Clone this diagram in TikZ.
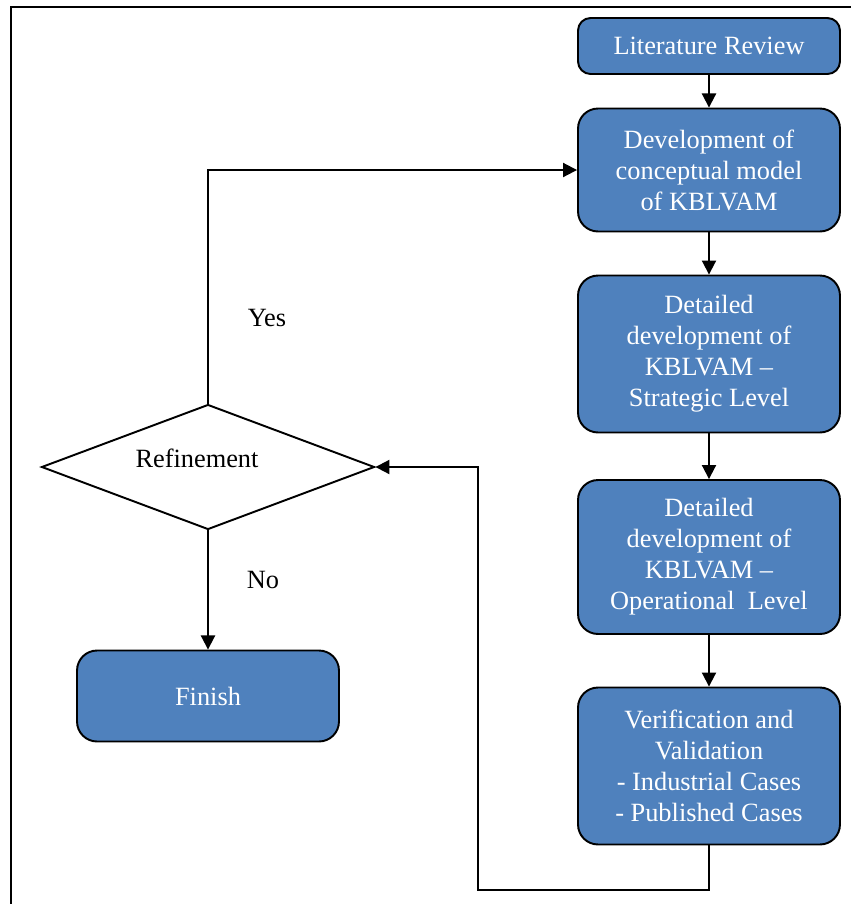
\documentclass[tikz,border=0pt]{standalone}
\usepackage{fontspec}
\setmainfont{Liberation Serif}
\usepackage{tikz}
\usetikzlibrary{shapes.geometric,arrows.meta}

\definecolor{boxblue}{RGB}{79,129,189}

\begin{document}
\begin{tikzpicture}[x=0.02cm, y=-0.02cm,
    stage/.style={draw=black, line width=1.1pt, fill=boxblue, text=white,
      rounded corners=0.4cm, align=center, minimum width=5.24cm,
      inner sep=2pt, font=\fontsize{15}{17.6}\selectfont},
    decide/.style={draw=black, line width=1.1pt, diamond, inner sep=0pt,
      minimum width=6.66cm, minimum height=2.5cm},
    word/.style={font=\fontsize{15}{17.6}\selectfont},
    arr/.style={line width=1.1pt, -{Triangle[length=8pt,width=8pt]}}]
        \useasboundingbox (0,0) rectangle (851,904);
        \draw[line width=0.8pt] (11,904) -- (11,7) -- (851,7);

        \node[stage, minimum height=1.12cm, rounded corners=0.25cm] (lit) at (709,46) {Literature Review};
        \node[stage, minimum height=2.46cm] (dev) at (709,170) {Development of\\conceptual model\\of KBLVAM};
        \node[stage, minimum height=3.14cm] (strat) at (709,354) {Detailed\\development of\\KBLVAM --\\Strategic Level};
        \node[stage, minimum height=3.08cm] (oper) at (709,557) {Detailed\\development of\\KBLVAM --\\Operational\ \ Level};
        \node[stage, minimum height=3.14cm] (vv) at (709,766) {Verification and\\Validation\\- Industrial Cases\\- Published Cases};

        % decision text sits a little up and left of the centre
        \node[decide, label={[word, xshift=-0.22cm, yshift=0.18cm]center:Refinement}] (refine) at (208,467) {};
        \node[stage, minimum height=1.82cm] (finish) at (208,696) {Finish};

        \node[word] (yes) at (267,318) {Yes};
        \node[word] (no) at (263,580) {No};

        \draw[arr] (lit) -- (dev);
        \draw[arr] (dev) -- (strat);
        \draw[arr] (strat) -- (oper);
        \draw[arr] (oper) -- (vv);
        \draw[arr] (refine.north) |- (dev.west);
        \draw[arr] (refine.south) -- (finish.north);

        \coordinate (back) at (478,890);
        \draw[arr] (vv.south) |- (back) |- (refine.east);
\end{tikzpicture}
\end{document}
